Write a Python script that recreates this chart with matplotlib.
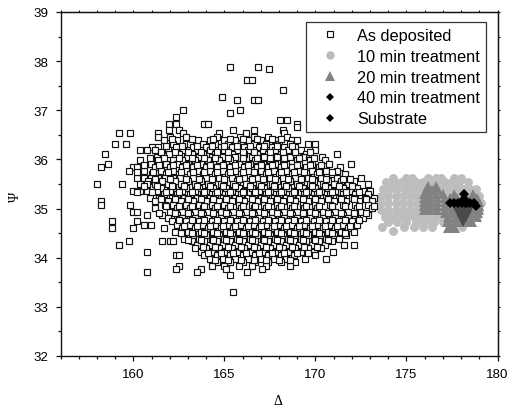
import numpy as np
import matplotlib
matplotlib.use("Agg")
import matplotlib.pyplot as plt
from matplotlib.ticker import MultipleLocator

plt.rcParams['font.family'] = ['Liberation Sans', 'DejaVu Sans']

dep_psi = [37.89, 37.83, 37.62, 37.42, 37.27, 37.21, 37.0, 36.94, 36.86, 36.8, 36.72, 36.65, 36.59, 36.53,
           36.46, 36.39, 36.32, 36.25, 36.19, 36.12, 36.05, 35.98, 35.91, 35.84, 35.77, 35.7, 35.63, 35.56,
           35.49, 35.42, 35.36, 35.29, 35.22, 35.15, 35.08, 35.01, 34.94, 34.87, 34.8, 34.74, 34.67, 34.6,
           34.53, 34.46, 34.39, 34.33, 34.26, 34.19, 34.12, 34.05, 33.98, 33.91, 33.84, 33.78, 33.71, 33.65, 33.3]
dep_delta = [
    [165.3, 166.87],
    [167.44],
    [166.25, 166.5],
    [168.24],
    [164.89],
    [165.68, 166.65, 166.87],
    [162.75, 165.88],
    [165.3],
    [162.35],
    [168.06, 168.43],
    [161.94, 162.35, 163.88, 164.12, 169.0],
    [169.0],
    [161.94, 162.53, 165.5, 166.65, 168.24],
    [159.21, 159.8, 161.37, 162.75, 164.71, 166.2, 168.3],
    [161.37, 162.0, 162.9, 164.6, 165.86, 166.6, 167.4, 168.43],
    [161.7, 162.4, 163.53, 164.2, 165.0, 165.6, 166.3, 167.0, 167.8, 168.7, 169.0],
    [159.0, 159.6, 162.2, 162.9, 163.11, 163.8, 164.5, 165.2, 165.9, 166.6, 167.3, 168.0, 168.6, 169.58, 169.99],
    [161.0, 161.37, 162.36, 163.3, 164.0, 164.8, 165.4, 166.1, 166.9, 167.6, 168.3, 168.9],
    [160.38, 160.77, 161.17, 161.9, 162.74, 163.5, 164.2, 165.0, 165.7, 166.3, 167.1, 167.8, 168.5, 169.2, 169.99],
    [158.43, 161.96, 162.5, 163.2, 163.8, 164.5, 165.4, 166.1, 166.8, 167.4, 168.1, 168.8, 169.5, 171.17],
    [161.3, 162.93, 163.6, 164.3, 164.9, 165.6, 166.5, 167.2, 167.9, 168.6, 169.3, 170.35],
    [160.38, 161.37, 162.2, 162.7, 163.4, 164.1, 164.7, 165.3, 166.0, 166.7, 167.5, 168.2, 169.0, 169.7, 170.5],
    [158.63, 160.97, 161.8, 162.4, 163.0, 163.7, 164.4, 165.1, 165.8, 166.4, 167.1, 167.8, 168.4, 169.1, 169.8, 170.77, 171.94],
    [158.22, 159.98, 160.18, 161.2, 162.0, 162.7, 163.3, 164.0, 164.6, 165.3, 166.1, 166.8, 167.4, 168.1, 168.7, 169.5, 170.2, 171.35],
    [159.78, 160.6, 161.5, 162.2, 162.9, 163.6, 164.2, 164.9, 165.6, 166.3, 167.0, 167.7, 168.4, 169.1, 169.8, 170.6, 171.2],
    [161.0, 161.8, 162.5, 163.1, 163.8, 164.5, 165.2, 165.9, 166.6, 167.3, 168.0, 168.7, 169.4, 170.1, 170.9, 171.6],
    [160.18, 160.58, 160.97, 161.37, 161.76, 162.16, 162.56, 163.3, 164.0, 164.7, 165.4, 166.1, 166.8, 167.5, 168.2, 168.9, 169.6, 170.3, 171.2, 172.53],
    [160.8, 161.6, 162.3, 163.0, 163.7, 164.3, 165.0, 165.7, 166.4, 167.2, 167.9, 168.6, 169.2, 169.9, 170.7, 171.4, 172.1],
    [158.02, 159.4, 160.38, 160.77, 161.17, 161.9, 162.6, 163.4, 164.1, 164.8, 165.5, 166.2, 166.9, 167.6, 168.3, 169.0, 169.7, 170.4, 171.0, 171.8, 172.9],
    [161.5, 162.2, 162.9, 163.6, 164.4, 165.1, 165.8, 166.5, 167.2, 167.8, 168.5, 169.3, 170.0, 170.7, 171.5, 172.3],
    [159.98, 160.38, 160.77, 161.3, 162.0, 162.7, 163.4, 164.0, 164.7, 165.4, 166.1, 166.9, 167.5, 168.2, 168.9, 169.6, 170.3, 171.1, 171.9, 172.6, 173.0],
    [161.7, 162.4, 163.1, 163.8, 164.5, 165.2, 165.9, 166.6, 167.3, 168.0, 168.7, 169.4, 170.1, 170.8, 171.5, 172.2, 172.9],
    [160.9, 161.4, 162.1, 162.8, 163.5, 164.2, 164.9, 165.6, 166.3, 167.0, 167.7, 168.4, 169.1, 169.8, 170.6, 171.3, 172.0, 172.7, 173.2],
    [158.22, 161.2, 161.9, 162.6, 163.3, 164.0, 164.7, 165.4, 166.1, 166.8, 167.5, 168.2, 168.9, 169.6, 170.3, 171.0, 171.7, 172.4, 173.1],
    [158.24, 159.8, 161.76, 162.16, 162.9, 163.6, 164.3, 165.0, 165.8, 166.5, 167.2, 167.9, 168.6, 169.3, 170.0, 170.8, 171.5, 172.2, 172.9],
    [161.17, 162.4, 163.1, 163.8, 164.5, 165.2, 165.9, 166.6, 167.3, 168.0, 168.7, 169.4, 170.1, 170.9, 171.6, 172.3, 173.1],
    [159.98, 160.18, 162.0, 162.7, 163.4, 164.1, 164.8, 165.5, 166.2, 166.9, 167.6, 168.3, 169.0, 169.7, 170.4, 171.1, 171.8, 172.5],
    [160.77, 161.6, 162.4, 163.1, 163.8, 164.5, 165.2, 165.9, 166.6, 167.3, 168.0, 168.7, 169.4, 170.1, 170.8, 171.5, 172.2, 172.9],
    [161.9, 162.7, 163.4, 164.1, 164.8, 165.5, 166.2, 166.9, 167.6, 168.3, 169.0, 169.7, 170.4, 171.1, 171.8, 172.6],
    [158.81, 160.19, 162.1, 162.9, 163.6, 164.3, 165.0, 165.7, 166.4, 167.1, 167.8, 168.5, 169.2, 169.9, 170.6, 171.3, 172.0],
    [160.57, 160.97, 162.4, 163.1, 163.8, 164.5, 165.2, 165.9, 166.6, 167.3, 168.0, 168.7, 169.4, 170.1, 170.8, 171.5, 172.3],
    [158.81, 159.98, 161.7, 162.7, 163.4, 164.1, 164.8, 165.5, 166.2, 166.9, 167.6, 168.3, 169.0, 169.7, 170.4, 171.1, 171.8],
    [162.3, 163.0, 163.7, 164.4, 165.1, 165.8, 166.5, 167.2, 167.9, 168.6, 169.3, 170.0, 170.7, 171.4, 172.1],
    [163.3, 164.0, 164.7, 165.4, 166.1, 166.8, 167.5, 168.2, 168.9, 169.6, 170.3, 171.0, 171.7],
    [162.8, 163.6, 164.3, 165.0, 165.7, 166.4, 167.1, 167.8, 168.5, 169.2, 169.9, 170.6, 171.3],
    [159.78, 161.6, 162.0, 162.2, 163.2, 163.9, 164.6, 165.3, 166.0, 166.7, 167.4, 168.1, 168.8, 169.5, 170.2, 170.9],
    [159.21, 163.5, 164.2, 164.9, 165.6, 166.3, 167.0, 167.7, 168.4, 169.1, 169.8, 170.5, 171.56, 172.14],
    [163.4, 164.0, 164.7, 165.4, 166.1, 166.8, 167.5, 168.2, 168.9, 169.6, 170.3],
    [160.77, 163.7, 164.3, 165.0, 165.7, 166.4, 167.1, 167.8, 168.5, 169.2, 169.9, 170.98],
    [162.35, 162.53, 163.9, 164.6, 165.3, 166.0, 166.7, 167.4, 168.1, 168.8, 169.98],
    [164.2, 164.9, 165.6, 166.3, 167.0, 167.7, 168.4, 169.42, 170.57],
    [164.6, 165.3, 166.0, 166.7, 167.4, 168.1, 168.9],
    [162.53, 164.3, 165.0, 165.8, 166.5, 167.3, 168.6],
    [162.35, 163.72, 165.1, 167.05],
    [160.77, 163.52, 166.25],
    [165.3],
    [165.5],
]

# second pass over the dense middle of the same cloud
dep2_psi = [36.42, 36.28, 36.15, 36.02, 35.88, 35.74, 35.6, 35.46, 35.33, 35.19, 35.05, 34.91, 34.77, 34.64, 34.5,
            34.36, 34.22, 34.09, 33.95]
dep2_delta = [
    [162.1, 163.2, 164.4, 165.3, 166.0, 166.8, 167.6, 168.1],
    [161.8, 162.7, 163.5, 164.3, 165.0, 165.7, 166.4, 167.2, 167.9, 168.7],
    [161.5, 162.3, 163.0, 163.7, 164.6, 165.2, 166.0, 166.6, 167.5, 168.2, 168.9, 169.7],
    [160.9, 161.7, 162.5, 163.2, 163.9, 164.5, 165.2, 166.0, 166.8, 167.5, 168.3, 169.1, 169.9],
    [160.6, 161.4, 162.2, 162.9, 163.5, 164.2, 164.9, 165.6, 166.3, 167.0, 167.6, 168.3, 169.0, 169.7, 170.3],
    [160.2, 161.1, 161.9, 162.6, 163.3, 163.9, 164.6, 165.3, 166.0, 166.6, 167.4, 168.1, 168.8, 169.4, 170.2, 170.9],
    [161.2, 162.0, 162.9, 163.6, 164.3, 165.0, 165.8, 166.5, 167.1, 167.8, 168.5, 169.2, 169.8, 170.6, 171.5, 171.9],
    [160.6, 161.3, 162.1, 162.8, 163.5, 164.2, 164.9, 165.6, 166.4, 167.0, 167.7, 168.4, 169.1, 169.8, 170.5, 171.3, 172.0],
    [160.2, 161.0, 161.8, 162.5, 163.2, 163.9, 164.6, 165.3, 166.0, 166.7, 167.4, 168.1, 168.8, 169.5, 170.2, 170.9, 171.7, 172.4],
    [161.5, 162.3, 163.0, 163.7, 164.4, 165.1, 165.8, 166.5, 167.2, 167.9, 168.6, 169.3, 170.0, 170.7, 171.4, 172.1, 172.8],
    [161.8, 162.5, 163.2, 163.9, 164.6, 165.3, 166.0, 166.7, 167.4, 168.1, 168.8, 169.5, 170.2, 170.9, 171.6, 172.4, 173.2],
    [161.4, 162.3, 163.0, 163.7, 164.4, 165.1, 165.8, 166.5, 167.2, 167.9, 168.6, 169.3, 170.0, 170.7, 171.4, 172.1, 172.8],
    [162.5, 163.2, 163.9, 164.6, 165.3, 166.0, 166.7, 167.4, 168.1, 168.8, 169.5, 170.2, 170.9, 171.6, 172.4],
    [162.8, 163.5, 164.2, 164.9, 165.6, 166.3, 167.0, 167.7, 168.4, 169.1, 169.8, 170.5, 171.2, 171.9],
    [162.6, 163.2, 163.9, 164.6, 165.3, 166.0, 166.7, 167.4, 168.1, 168.8, 169.5, 170.2, 170.9, 171.6],
    [163.0, 163.7, 164.4, 165.1, 165.8, 166.5, 167.2, 167.9, 168.6, 169.3, 170.0, 170.7],
    [163.8, 164.5, 165.2, 165.9, 166.6, 167.3, 168.0, 168.7, 169.4, 170.1],
    [164.1, 164.8, 165.5, 166.2, 166.9, 167.6, 168.3, 169.0, 169.6],
    [164.5, 165.2, 165.9, 166.6, 167.3, 168.0, 168.6],
]

# 10 min treatment
t10_psi = [35.62, 35.54, 35.39, 35.25, 35.11, 34.97, 34.83, 34.72, 34.62, 34.54]
t10_delta = [
    [174.27, 175.0, 175.3, 176.2, 176.6, 176.9, 177.6, 178.0],
    [173.9, 174.3, 174.7, 175.1, 175.5, 175.9, 176.3, 176.7, 177.1, 177.5, 177.9, 178.4],
    [173.7, 174.1, 174.5, 174.9, 175.3, 175.7, 176.1, 176.5, 176.9, 177.3, 177.7, 178.1, 178.5, 178.8],
    [173.6, 174.0, 174.4, 174.8, 175.2, 175.6, 176.0, 176.4, 176.8, 177.2, 177.6, 178.0, 178.4, 178.8, 179.0],
    [173.6, 174.0, 174.4, 174.8, 175.2, 175.6, 176.0, 176.4, 176.8, 177.2, 177.6, 178.0, 178.4, 178.8, 179.1],
    [173.6, 174.0, 174.4, 174.8, 175.2, 175.6, 176.0, 176.4, 176.8, 177.2, 177.6, 178.0, 178.4, 178.8, 179.0],
    [173.8, 174.2, 174.6, 175.0, 175.4, 175.8, 176.2, 176.6, 177.0, 177.4, 177.8, 178.2, 178.8],
    [174.0, 174.5, 175.0, 175.5, 176.0, 176.5, 177.0],
    [173.66, 174.88, 175.4, 175.9, 176.4, 178.06],
    [174.27],
]

# 20 min treatment
t20_psi = [35.46, 35.38, 35.3, 35.22, 35.14, 35.06, 34.98, 34.9, 34.82, 34.72, 34.6]
t20_delta = [
    [176.2, 176.6],
    [176.05, 176.4, 176.75],
    [175.95, 176.25, 176.6, 177.0, 177.6, 178.2, 178.65],
    [175.95, 176.3, 176.7, 177.1, 177.4, 177.8, 178.2, 178.6, 178.85],
    [175.95, 176.3, 176.7, 177.1, 177.5, 177.9, 178.3, 178.7, 179.0],
    [175.95, 176.3, 176.7, 177.1, 177.5, 177.9, 178.3, 178.7, 179.0],
    [175.95, 176.3, 176.7, 177.1, 177.5, 177.9, 178.3, 178.7, 179.0],
    [177.1, 177.5, 177.9, 178.3, 178.7, 178.95],
    [177.3, 177.7, 178.1, 178.5, 178.85],
    [177.2, 177.45, 177.7, 178.0, 178.3, 178.6],
    [177.3, 177.5, 177.65],
]

# dark patch under the diamonds
dark_psi = [35.03, 35.03, 35.03, 35.03, 34.95, 34.95, 34.95, 34.85, 34.85, 34.75]
dark_delta = [177.75, 178.0, 178.25, 178.5, 177.85, 178.1, 178.4, 178.0, 178.25, 178.1]

# 40 min treatment
t40_psi = [35.29, 35.2, 35.11, 35.11, 35.11, 35.11, 35.11, 35.11, 35.11, 35.05]
t40_delta = [178.17, 178.17, 177.4, 177.6, 177.85, 178.05, 178.3, 178.5, 178.7, 178.83]

# substrate
sub_psi = [35.11]
sub_delta = [178.2]

labels = ['As deposited', '10 min treatment', '20 min treatment', '40 min treatment', 'Substrate']


def flatten(psi, delta):
    x = np.concatenate([np.array(r, dtype=float) for r in delta])
    y = np.repeat(psi, [len(r) for r in delta])
    return x, y


fig = plt.figure(figsize=(5.08, 4.10), dpi=100)
ax = fig.add_axes([60.5 / 508, 53 / 410, 437 / 508, 344 / 410])

x, y = flatten(dep_psi, dep_delta)
x2, y2 = flatten(dep2_psi, dep2_delta)
x = np.concatenate([x, x2])
y = np.concatenate([y, y2])
ax.plot(x, y, 's', ms=4.7, mfc='white', mec='#111111', mew=0.85, zorder=3, label=labels[0])
x, y = flatten(t10_psi, t10_delta)
ax.plot(x, y, 'o', ms=6.4, mfc='#bdbdbd', mec='#bdbdbd', mew=0, zorder=2, label=labels[1])
x, y = flatten(t20_psi, t20_delta)
ax.plot(x, y, '^', ms=7.5, mfc='#828282', mec='#828282', mew=0, zorder=4, label=labels[2])
ax.plot(dark_delta, dark_psi, 'v', ms=9, mfc='#4a4a4a', mec='#4a4a4a', mew=0, zorder=5)
ax.plot(t40_delta, t40_psi, 'D', ms=4.6, mfc='black', mec='black', mew=0, zorder=6, label=labels[3])
ax.plot(sub_delta, sub_psi, 'D', ms=4.6, mfc='black', mec='black', mew=0, zorder=6, label=labels[4])

ax.set_xlim(156, 180)
ax.set_ylim(32, 39)
ax.xaxis.set_major_locator(MultipleLocator(5))
ax.xaxis.set_minor_locator(MultipleLocator(1))
ax.yaxis.set_major_locator(MultipleLocator(1))
ax.yaxis.set_minor_locator(MultipleLocator(0.5))
ax.tick_params(which='major', length=3.8, width=0.9, labelsize=9.6, pad=5, color='#111111')
ax.tick_params(which='minor', length=2.2, width=0.9, color='#111111')
for s in ax.spines.values():
    s.set_linewidth(1.0)
    s.set_color('#111111')

# short ticks along the top and right
top = ax.secondary_xaxis('top')
right = ax.secondary_yaxis('right')
top.xaxis.set_major_locator(MultipleLocator(1))
right.yaxis.set_major_locator(MultipleLocator(0.5))
top.tick_params(length=1.2, width=0.8, labeltop=False, color='#111111')
right.tick_params(length=1.2, width=0.8, labelright=False, color='#111111')

fig.text(278 / 508, 1 - 402 / 410, '\u0394', family='Liberation Serif', fontsize=10, ha='center', va='center')
fig.text(15 / 508, 1 - 197 / 410, '\u03a8', family='Liberation Serif', fontsize=10, rotation=90, ha='center', va='center')

leg = ax.legend(loc='upper left', bbox_to_anchor=((306 - 60.5) / 437, (357 - 23) / 344), fontsize=11.8,
                frameon=True, fancybox=False, framealpha=1, edgecolor='#333333', borderaxespad=0,
                borderpad=0.35, labelspacing=0.36, handletextpad=0.5, handlelength=2.25, numpoints=1,
                markerscale=0.95)
leg.get_frame().set_linewidth(0.9)
leg.set_zorder(10)

fig.savefig('out.png', dpi=100)
